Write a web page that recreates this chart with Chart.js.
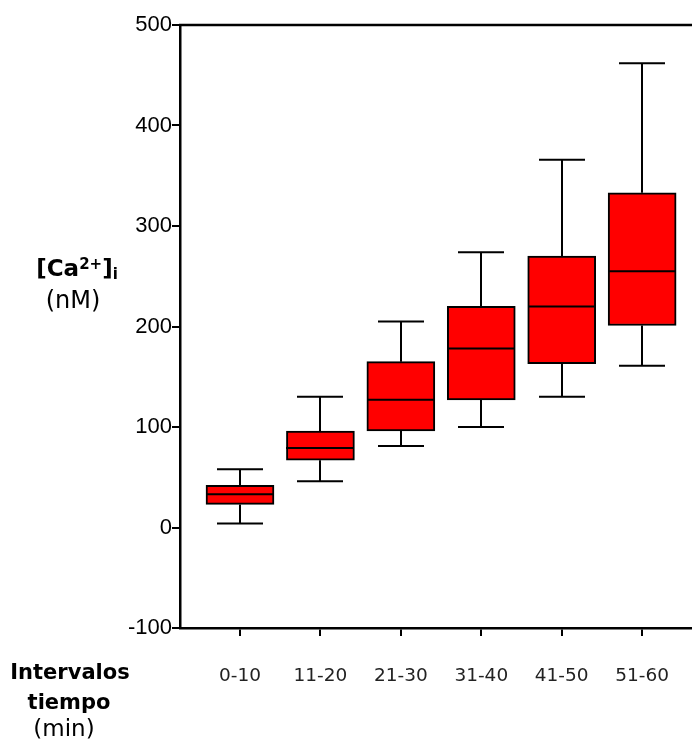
<!DOCTYPE html>
<html>
<head>
<meta charset="utf-8">
<script src="https://cdn.jsdelivr.net/npm/chart.js@4.4.1/dist/chart.umd.min.js"></script>
<style>
  html, body { margin: 0; padding: 0; background: #fff; }
  #wrap { position: relative; width: 692px; height: 744px; }
</style>
</head>
<body>
<div id="wrap"><canvas id="myChart" width="692" height="744"></canvas></div>
<script>
(function () {
  "use strict";

  // box plot data per interval
  const intervals = ["0-10", "11-20", "21-30", "31-40", "41-50", "51-60"];
  const whiskerLow = [4, 46, 81, 100, 130, 161];
  const quartile1 = [23, 67, 96, 127, 163, 201];
  const median = [33, 79, 127, 178, 220, 255];
  const quartile3 = [42, 96, 165, 220, 270, 333];
  const whiskerHigh = [58, 130, 205, 274, 366, 462];
  const yTicks = [-100, 0, 100, 200, 300, 400, 500];

  const boxWidth = 68;
  const capWidth = 46;

  const boxes = intervals.map((_, i) => ({ x: i, y: [quartile1[i], quartile3[i]] }));

  // whiskers, caps, medians, top frame line and the axis titles
  const boxExtras = {
    id: "boxExtras",
    afterDatasetsDraw(chart) {
      const ctx = chart.ctx;
      const xs = chart.scales.x;
      const ys = chart.scales.y;
      ctx.save();
      ctx.strokeStyle = "#000";
      ctx.lineWidth = 2;
      ctx.lineCap = "butt";
      for (let i = 0; i < intervals.length; i++) {
        const x = Math.round(xs.getPixelForValue(i));
        const yMin = ys.getPixelForValue(whiskerLow[i]);
        const yQ1 = ys.getPixelForValue(quartile1[i]);
        const yMed = ys.getPixelForValue(median[i]);
        const yQ3 = ys.getPixelForValue(quartile3[i]);
        const yMax = ys.getPixelForValue(whiskerHigh[i]);
        ctx.beginPath();
        ctx.moveTo(x, yQ3);
        ctx.lineTo(x, yMax);
        ctx.moveTo(x - capWidth / 2, yMax);
        ctx.lineTo(x + capWidth / 2, yMax);
        ctx.moveTo(x, yQ1);
        ctx.lineTo(x, yMin);
        ctx.moveTo(x - capWidth / 2, yMin);
        ctx.lineTo(x + capWidth / 2, yMin);
        ctx.moveTo(x - boxWidth / 2, yMed);
        ctx.lineTo(x + boxWidth / 2, yMed);
        ctx.stroke();
      }
      // top frame line
      const area = chart.chartArea;
      ctx.lineWidth = 2.5;
      ctx.beginPath();
      ctx.moveTo(area.left - 1, area.top);
      ctx.lineTo(area.right, area.top);
      ctx.stroke();
      ctx.restore();
    },
    afterDraw(chart) {
      const ctx = chart.ctx;
      ctx.save();
      ctx.fillStyle = "#000";
      ctx.textBaseline = "alphabetic";

      // [Ca2+]i
      const bold = "bold 23px 'DejaVu Sans'";
      const small = "bold 15px 'DejaVu Sans'";
      const parts = [
        { t: "[Ca", f: bold, dy: 0 },
        { t: "2+", f: small, dy: -7 },
        { t: "]", f: bold, dy: 0 },
        { t: "i", f: small, dy: 3 }
      ];
      let total = 0;
      parts.forEach((p) => { ctx.font = p.f; p.w = ctx.measureText(p.t).width; total += p.w; });
      let x = 77 - total / 2;
      ctx.textAlign = "left";
      parts.forEach((p) => { ctx.font = p.f; ctx.fillText(p.t, x, 276 + p.dy); x += p.w; });

      ctx.textAlign = "center";
      ctx.font = "24px 'DejaVu Sans'";
      ctx.fillText("(nM)", 73, 308);

      ctx.font = "bold 21px 'DejaVu Sans'";
      ctx.fillText("Intervalos", 70, 679);
      ctx.fillText("tiempo", 69, 709);
      ctx.font = "23px 'DejaVu Sans'";
      ctx.fillText("(min)", 64, 736);
      ctx.restore();
    }
  };

  const ctx = document.getElementById("myChart");

  new Chart(ctx, {
    type: "bar",
    data: {
      datasets: [
        {
          data: boxes,
          backgroundColor: "#ff0000",
          borderColor: "#000",
          borderWidth: 2,
          borderSkipped: false,
          barThickness: boxWidth
        }
      ]
    },
    options: {
      responsive: false,
      animation: false,
      layout: { padding: { left: 0, right: 0, top: 25, bottom: 0 } },
      plugins: {
        legend: { display: false },
        tooltip: { enabled: false }
      },
      scales: {
        x: {
          type: "linear",
          offset: false,
          min: -0.746,
          max: 5.62,
          afterBuildTicks(scale) {
            scale.ticks = intervals.map((_, i) => ({ value: i }));
          },
          afterFit(scale) {
            scale.height = 116;
            scale.paddingLeft = 0;
            scale.paddingRight = 0;
          },
          border: { display: true, color: "#000", width: 2.5 },
          grid: {
            display: true,
            offset: false,
            drawOnChartArea: false,
            drawTicks: true,
            tickLength: 8,
            color: "#000",
            lineWidth: 2
          },
          ticks: {
            callback: (v) => intervals[v],
            color: "#222",
            font: { family: "DejaVu Sans", size: 18.5 },
            padding: 29,
            maxRotation: 0
          }
        },
        y: {
          min: -100,
          max: 500,
          afterBuildTicks(scale) {
            scale.ticks = yTicks.map((v) => ({ value: v }));
          },
          afterFit(scale) {
            scale.width = 180;
          },
          border: { display: true, color: "#000", width: 2.5 },
          grid: {
            display: true,
            drawOnChartArea: false,
            drawTicks: true,
            tickLength: 8,
            color: "#000",
            lineWidth: 2
          },
          ticks: {
            color: "#000",
            font: { family: "Liberation Sans", size: 22 },
            padding: 0
          }
        }
      }
    },
    plugins: [boxExtras]
  });
})();
</script>
</body>
</html>
